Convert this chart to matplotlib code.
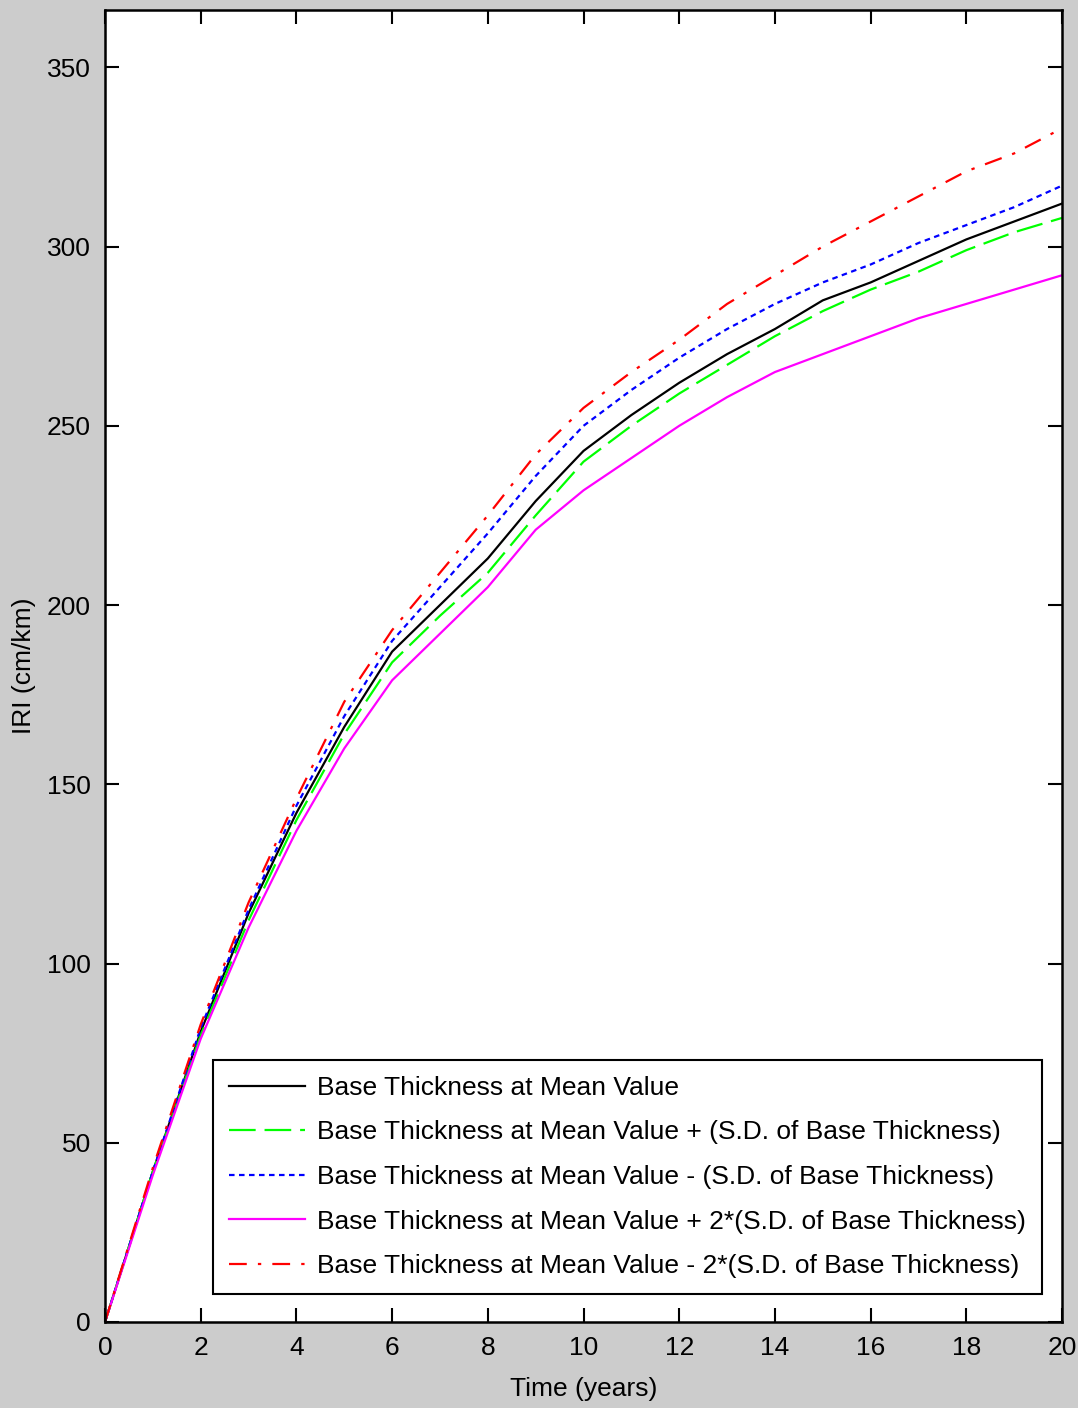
import matplotlib.pyplot as plt

# Time axis (years) and IRI values
years = list(range(0, 21))

iri_mean = [0, 42, 81, 114, 142, 166, 187, 200, 213, 229, 243,
            253, 262, 270, 277, 285, 290, 296, 302, 307, 312]
iri_plus_sd = [0, 42, 80, 112, 140, 164, 184, 197, 209, 225, 240,
               250, 259, 267, 275, 282, 288, 293, 299, 304, 308]
iri_minus_sd = [0, 42, 82, 115, 144, 169, 190, 205, 220, 236, 250,
                260, 269, 277, 284, 290, 295, 301, 306, 311, 317]
iri_plus_2sd = [0, 41, 79, 110, 137, 160, 179, 192, 205, 221, 232,
                241, 250, 258, 265, 270, 275, 280, 284, 288, 292]
iri_minus_2sd = [0, 43, 83, 117, 146, 173, 193, 209, 225, 242, 255,
                 265, 274, 284, 292, 300, 307, 314, 321, 326, 333]

labels = [
    'Base Thickness at Mean Value',
    'Base Thickness at Mean Value + (S.D. of Base Thickness)',
    'Base Thickness at Mean Value - (S.D. of Base Thickness)',
    'Base Thickness at Mean Value + 2*(S.D. of Base Thickness)',
    'Base Thickness at Mean Value - 2*(S.D. of Base Thickness)',
]

x_ticks = list(range(0, 21, 2))
y_ticks = list(range(0, 351, 50))

plt.rcParams['font.family'] = ['Liberation Sans', 'DejaVu Sans']

fig = plt.figure(figsize=(10.78, 14.08), dpi=100, facecolor='#cccccc')
ax = fig.add_axes([0.0974, 0.0611, 0.8878, 0.9318])

ax.plot(years, iri_mean, color='black', lw=1.6, label=labels[0])
ax.plot(years, iri_plus_sd, color='#00ff00', lw=1.6, dashes=(12, 4), label=labels[1])
ax.plot(years, iri_minus_sd, color='blue', lw=1.6, dashes=(2.5, 2), label=labels[2])
ax.plot(years, iri_plus_2sd, color='magenta', lw=1.6, label=labels[3])
ax.plot(years, iri_minus_2sd, color='red', lw=1.6, dashes=(8, 5, 1.5, 5), label=labels[4])

ax.set_xlim(0, 20)
ax.set_ylim(0, 366)
ax.set_xticks(x_ticks)
ax.set_yticks(y_ticks)
ax.tick_params(direction='in', length=10, width=1.5, top=True, right=True,
               labelsize=19, pad=10)
for s in ax.spines.values():
    s.set_linewidth(1.8)

ax.set_xlabel('Time (years)', fontsize=19, labelpad=12)
ax.set_ylabel('IRI (cm/km)', fontsize=19, labelpad=8)

leg = ax.legend(loc='lower right', bbox_to_anchor=(0.979, 0.0213),
                borderaxespad=0, fontsize=19, fancybox=False, framealpha=1,
                handlelength=2.9, labelspacing=0.78, borderpad=0.6,
                handletextpad=0.45)
leg.get_frame().set_edgecolor('black')
leg.get_frame().set_linewidth(1.5)

fig.savefig('out.png', dpi=100, facecolor=fig.get_facecolor())
